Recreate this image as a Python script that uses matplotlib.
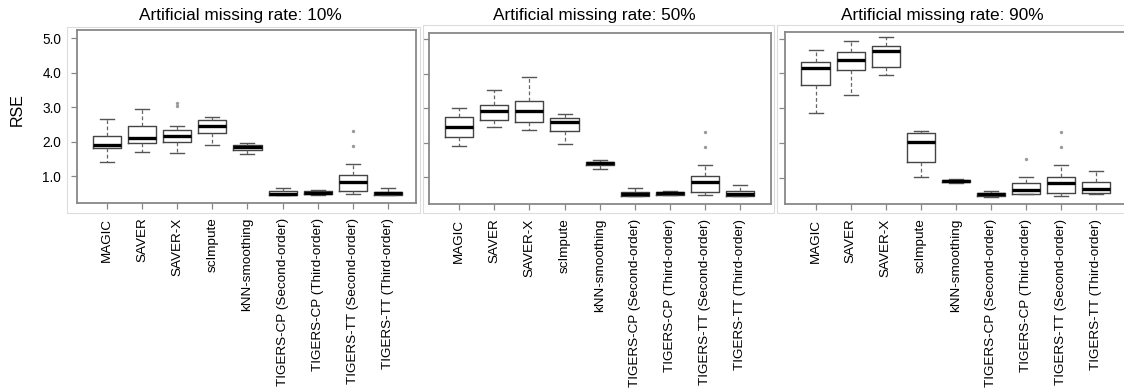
import matplotlib
matplotlib.use("Agg")
import matplotlib.pyplot as plt
from matplotlib.patches import Rectangle

plt.rcParams['font.family'] = ['Liberation Sans', 'DejaVu Sans']

methods = ["MAGIC", "SAVER", "SAVER-X", "scImpute", "kNN-smoothing",
           "TIGERS-CP (Second-order)", "TIGERS-CP (Third-order)",
           "TIGERS-TT (Second-order)", "TIGERS-TT (Third-order)"]
titles = ["Artificial missing rate: 10%", "Artificial missing rate: 50%",
          "Artificial missing rate: 90%"]
yticks = [1.0, 2.0, 3.0, 4.0, 5.0]

# 10%
lo_10 = [1.43, 1.72, 1.69, 1.92, 1.65, 0.45, 0.46, 0.49, 0.45]
q1_10 = [1.82, 1.98, 2.01, 2.27, 1.77, 0.46, 0.48, 0.59, 0.46]
med_10 = [1.92, 2.11, 2.16, 2.47, 1.84, 0.50, 0.52, 0.84, 0.51]
q3_10 = [2.18, 2.45, 2.35, 2.62, 1.90, 0.57, 0.57, 1.03, 0.56]
hi_10 = [2.66, 2.95, 2.47, 2.73, 1.97, 0.66, 0.60, 1.36, 0.66]
out_10 = [[], [], [3.12, 3.05], [], [], [], [], [2.32, 1.89], []]

# 50%
lo_50 = [1.92, 2.45, 2.38, 1.97, 1.24, 0.46, 0.48, 0.48, 0.46]
q1_50 = [2.17, 2.67, 2.60, 2.33, 1.36, 0.47, 0.49, 0.58, 0.47]
med_50 = [2.47, 2.91, 2.91, 2.59, 1.41, 0.52, 0.54, 0.86, 0.52]
q3_50 = [2.75, 3.10, 3.20, 2.72, 1.46, 0.58, 0.58, 1.05, 0.62]
hi_50 = [3.00, 3.53, 3.90, 2.84, 1.49, 0.69, 0.62, 1.35, 0.78]
out_50 = [[], [], [], [], [], [], [], [2.31, 1.88], []]

# 90%
lo_90 = [2.85, 3.37, 3.95, 1.03, 0.85, 0.45, 0.52, 0.48, 0.54]
q1_90 = [3.66, 4.11, 4.17, 1.44, 0.86, 0.46, 0.53, 0.57, 0.55]
med_90 = [4.16, 4.38, 4.64, 2.03, 0.89, 0.52, 0.63, 0.84, 0.68]
q3_90 = [4.33, 4.62, 4.79, 2.27, 0.92, 0.57, 0.84, 1.03, 0.86]
hi_90 = [4.66, 4.93, 5.05, 2.35, 0.96, 0.62, 1.03, 1.35, 1.20]
out_90 = [[], [], [], [], [], [], [1.53], [2.32, 1.87], []]

panels = [(lo_10, q1_10, med_10, q3_10, hi_10, out_10),
          (lo_50, q1_50, med_50, q3_50, hi_50, out_50),
          (lo_90, q1_90, med_90, q3_90, hi_90, out_90)]

W, H = 1124, 392
fig = plt.figure(figsize=(W / 100, H / 100), dpi=100)

# axes boxes in pixels: left, right, top, bottom
boxes_px = [(77, 416, 30, 203), (429, 771, 33, 204), (785, 1127, 32, 204)]
frames_px = [(67, 420, 27, 213), (423, 774, 25, 213), (777, 1130, 25, 213)]
title_cx = [240, 594, 942]
xlims = [(0.145, 9.8), (0.14, 9.88), (0.13, 9.88)]
ylims = [(0.23, 5.24), (0.23, 5.18), (0.24, 5.19)]

for (fl, fr, ft, fb) in frames_px:
    fig.patches.append(Rectangle((fl / W, 1 - fb / H), (fr - fl) / W, (fb - ft) / H,
                                 transform=fig.transFigure, fill=False,
                                 edgecolor='#dcdcdc', linewidth=0.8))

for i, (pdata, bpx) in enumerate(zip(panels, boxes_px)):
    l, r, t, b = bpx
    ax = fig.add_axes([l / W, 1 - b / H, (r - l) / W, (b - t) / H])
    lo, q1, med, q3, hi, outs = pdata
    stats = []
    for k in range(len(methods)):
        stats.append(dict(whislo=lo[k], q1=q1[k], med=med[k], q3=q3[k],
                          whishi=hi[k], fliers=outs[k], label=methods[k]))
    ax.bxp(stats, positions=range(1, len(methods) + 1), widths=0.8,
           showfliers=True,
           boxprops=dict(color='#444444', linewidth=1.0),
           medianprops=dict(color='black', linewidth=2.4),
           whiskerprops=dict(color='#666666', linewidth=0.9, linestyle=(0, (3, 2))),
           capprops=dict(color='#555555', linewidth=1.0),
           capwidths=0.4,
           flierprops=dict(marker='o', markersize=1.4, markerfacecolor='#999999',
                           markeredgecolor='#999999', linestyle='none'))
    ax.set_xlim(*xlims[i])
    ax.set_ylim(*ylims[i])
    ax.set_yticks(yticks)
    ax.set_xticks(range(1, len(methods) + 1))
    ax.set_xticklabels(methods, rotation=90, fontsize=9.7)
    if i == 0:
        ax.set_yticklabels([f"{v:.1f}" for v in yticks], fontsize=9.8)
    else:
        ax.set_yticklabels([])
    for s in ax.spines.values():
        s.set_color('#888888')
        s.set_linewidth(1.3)
    ax.tick_params(axis='both', direction='out', length=4.5, width=0.9, color='#888888')
    ax.tick_params(axis='y', pad=7)
    ax.tick_params(axis='x', pad=6)
    fig.text(title_cx[i] / W, 1 - 20 / H, titles[i], ha='center', va='baseline',
             fontsize=12.4)

fig.text(17 / W, 1 - 110 / H, "RSE", rotation=90, ha='center', va='center',
         fontsize=11.5)

fig.savefig("out.png", dpi=100)
